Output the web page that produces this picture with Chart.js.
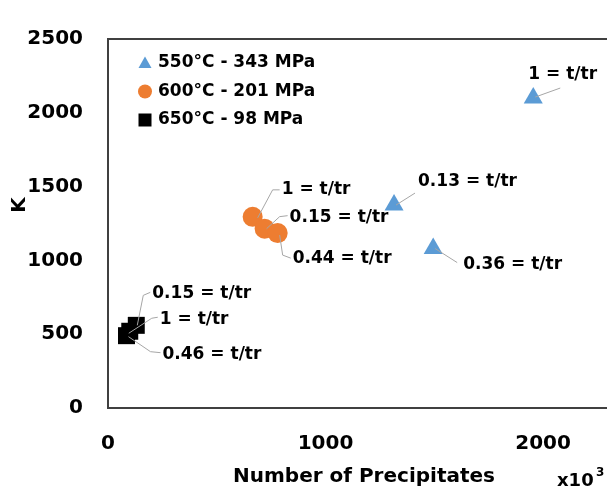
<!DOCTYPE html>
<html>
<head>
<meta charset="utf-8">
<script src="https://cdn.jsdelivr.net/npm/chart.js@4.4.1/dist/chart.umd.min.js"></script>
<style>
  body { margin: 0; background: #fff; }
  #wrap { width: 607px; height: 488px; position: relative; }
</style>
</head>
<body>
<div id="wrap"><canvas id="chart"></canvas></div>
<script>
// values (x in units of 10^3)
let triX = [1955, 1315, 1495];
let triY = [2100, 1375, 1080];
let triRatio = ['1', '0.13', '0.36'];

let circX = [665, 720, 780];
let circY = [1295, 1215, 1185];
let circRatio = ['1', '0.15', '0.44'];

let sqX = [130, 100, 85];
let sqY = [560, 520, 490];
let sqRatio = ['0.15', '1', '0.46'];

let xTicks = [0, 1000, 2000];
let yTicks = [0, 500, 1000, 1500, 2000, 2500];

let seriesNames = ['550°C - 343 MPa', '600°C - 201 MPa', '650°C - 98 MPa'];

// label placement: text offset and leader line, relative to the point (pixels)
let labelPos = [
    [
        { text: [-5, -23], line: [[2, -1], [27, -10]] },
        { text: [24, -23], line: [[2, 0], [21, -12]] },
        { text: [30, 16], line: [[2, 0], [24, 14]] }
    ],
    [
        { text: [29, -27], line: [[5, 1], [20, -27], [27, -27]] },
        { text: [25, -11], line: [[2, 0], [15, -12], [23, -13]] },
        { text: [15, 25], line: [[2, 2], [5, 22], [13, 25]] }
    ],
    [
        { text: [16, -32], line: [[1, 0], [7, -30], [14, -33]] },
        { text: [30, -12], line: [[-1, 2], [22, -13], [28, -14]] },
        { text: [36, 19], line: [[2, 1], [24, 16], [34, 17]] }
    ]
];
let ratios = [triRatio, circRatio, sqRatio];

const FONT = '"DejaVu Sans", sans-serif';
const AXIS = '#404040';

function pts(xs, ys) {
    return xs.map(function (x, i) { return { x: x, y: ys[i] }; });
}

let extras = {
    id: 'extras',
    afterDatasetsDraw: function (chart) {
        let ctx = chart.ctx;
        let area = chart.chartArea;
        ctx.save();

        // top border of the plot area
        ctx.strokeStyle = AXIS;
        ctx.lineWidth = 2;
        ctx.beginPath();
        ctx.moveTo(area.left - 1, area.top);
        ctx.lineTo(area.right, area.top);
        ctx.stroke();

        // data labels with leader lines
        ctx.font = 'bold 17px ' + FONT;
        ctx.textBaseline = 'middle';
        ctx.textAlign = 'left';
        chart.data.datasets.forEach(function (ds, d) {
            let meta = chart.getDatasetMeta(d);
            meta.data.forEach(function (el, i) {
                let p = labelPos[d][i];
                ctx.strokeStyle = '#a6a6a6';
                ctx.lineWidth = 1;
                ctx.beginPath();
                p.line.forEach(function (o, k) {
                    if (k === 0) ctx.moveTo(el.x + o[0], el.y + o[1]);
                    else ctx.lineTo(el.x + o[0], el.y + o[1]);
                });
                ctx.stroke();
                ctx.fillStyle = '#000';
                ctx.fillText(ratios[d][i] + ' = t/tr', el.x + p.text[0], el.y + p.text[1]);
            });
        });

        // legend inside the plot
        let lx = area.left + 37, ly = area.top + 24, step = 28.5;
        chart.data.datasets.forEach(function (ds, d) {
            let y = ly + d * step;
            ctx.fillStyle = ds.backgroundColor;
            ctx.beginPath();
            if (ds.pointStyle === 'triangle') {
                ctx.moveTo(lx, y - 6.5);
                ctx.lineTo(lx + 6.5, y + 5);
                ctx.lineTo(lx - 6.5, y + 5);
                ctx.closePath();
            } else if (ds.pointStyle === 'circle') {
                ctx.arc(lx, y, 7, 0, Math.PI * 2);
            } else {
                ctx.rect(lx - 6.5, y - 6.5, 13, 13);
            }
            ctx.fill();
            ctx.fillStyle = '#000';
            ctx.font = 'bold 17px ' + FONT;
            ctx.textBaseline = 'middle';
            ctx.fillText(ds.label, lx + 13, y);
        });

        // axis titles
        ctx.font = 'bold 20px ' + FONT;
        ctx.textAlign = 'center';
        ctx.textBaseline = 'alphabetic';
        ctx.fillText('Number of Precipitates', 364, 482);

        ctx.save();
        ctx.translate(25, 205);
        ctx.rotate(-Math.PI / 2);
        ctx.textAlign = 'center';
        ctx.fillText('K', 0, 0);
        ctx.restore();

        ctx.textAlign = 'left';
        ctx.font = 'bold 18px ' + FONT;
        ctx.fillText('x10', 557, 486);
        ctx.font = 'bold 12px ' + FONT;
        ctx.fillText('3', 596, 476);

        ctx.restore();
    }
};

function plain(value) {
    return String(value);
}

let ctxChart = document.getElementById('chart').getContext('2d');
let chart = new Chart(ctxChart, {
    type: 'scatter',
    data: {
        datasets: [{
            label: seriesNames[0],
            data: pts(triX, triY),
            pointStyle: 'triangle',
            pointRadius: 11,
            backgroundColor: '#5B9BD5',
            borderWidth: 0
        }, {
            label: seriesNames[1],
            data: pts(circX, circY),
            pointStyle: 'circle',
            pointRadius: 10,
            backgroundColor: '#ED7D31',
            borderWidth: 0
        }, {
            label: seriesNames[2],
            data: pts(sqX, sqY),
            pointStyle: 'rect',
            pointRadius: 12,
            backgroundColor: '#000000',
            borderWidth: 0
        }]
    },
    options: {
        responsive: true,
        maintainAspectRatio: false,
        animation: false,
        layout: {
            autoPadding: false,
            padding: { top: 39, left: 0, right: 0, bottom: 0 }
        },
        plugins: {
            legend: { display: false },
            tooltip: { enabled: false }
        },
        scales: {
            x: {
                type: 'linear',
                min: 0,
                max: 2294,
                afterBuildTicks: function (scale) {
                    scale.ticks = xTicks.map(function (v) { return { value: v }; });
                },
                afterFit: function (scale) {
                    scale.height = 80;
                    scale.paddingLeft = 0;
                    scale.paddingRight = 0;
                },
                grid: { display: false, drawTicks: false },
                border: { display: true, color: AXIS, width: 2 },
                ticks: {
                    padding: 24,
                    color: '#000',
                    maxRotation: 0,
                    callback: plain,
                    font: { family: FONT, size: 20, weight: 'bold' }
                }
            },
            y: {
                type: 'linear',
                min: 0,
                max: 2500,
                afterBuildTicks: function (scale) {
                    scale.ticks = yTicks.map(function (v) { return { value: v }; });
                },
                afterFit: function (scale) { scale.width = 108; },
                grid: { display: false, drawTicks: false },
                border: { display: true, color: AXIS, width: 2 },
                ticks: {
                    padding: 25,
                    color: '#000',
                    callback: plain,
                    font: { family: FONT, size: 20, weight: 'bold' }
                }
            }
        }
    },
    plugins: [extras]
});
</script>
</body>
</html>
